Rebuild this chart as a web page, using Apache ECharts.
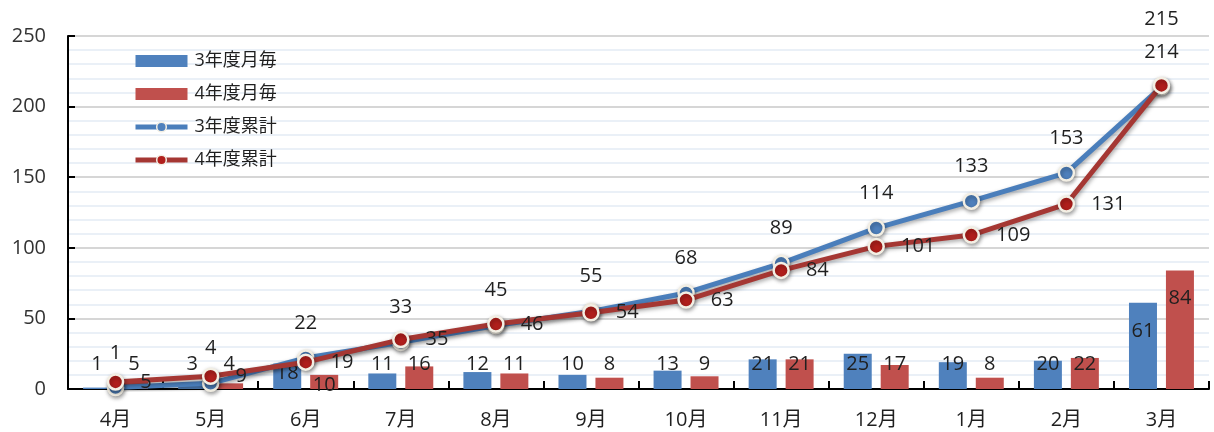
<!DOCTYPE html>
<html>
<head>
<meta charset="utf-8">
<script src="https://cdn.jsdelivr.net/npm/echarts@6/dist/echarts.min.js"></script>
<style>
html,body{margin:0;padding:0;background:#fff;}
#chart{width:1214px;height:432px;}
</style>
</head>
<body>
<div id="chart"></div>
<script>
const categories = ['4月','5月','6月','7月','8月','9月','10月','11月','12月','1月','2月','3月'];
const seriesNames = ['3年度月毎','4年度月毎','3年度累計','4年度累計'];
const monthlyR3 = [1,3,18,11,12,10,13,21,25,19,20,61];
const monthlyR4 = [5,4,10,16,11,8,9,21,17,8,22,84];
const cumulativeR3 = [1,4,22,33,45,55,68,89,114,133,153,214];
const cumulativeR4 = [5,9,19,35,46,54,63,84,101,109,131,215];
const yMin = 0, yMax = 250, yInterval = 50;

const FONT = "'Open Sans','Noto Sans CJK JP',sans-serif";
const TXT = '#1f1f1f';
const BLUE = '#4F81BD', RED = '#C0504D';
const BLUE_LINE = '#4A7EBB', RED_LINE = '#A53733';

// label placement tweaks (style only)
function barLabel(idx, isR4) {
  const base = {show:true, position:'insideBottom', distance:15, color:TXT, fontSize:20, fontFamily:FONT, lineHeight:20};
  if (idx === 11) return Object.assign({}, base, {position:'insideTop', distance:18});
  if (idx === 2) return Object.assign({}, base, {distance: isR4 ? -6 : 6});
  return base;
}
function barData(arr, isR4) {
  return arr.map((v,i) => ({value:v, label:barLabel(i,isR4)}));
}
const shadow = {shadowBlur:4, shadowColor:'rgba(0,0,0,0.35)', shadowOffsetX:1, shadowOffsetY:2};

const chart = echarts.init(document.getElementById('chart'), null, {renderer:'canvas'});
chart.setOption({
  animation:false,
  backgroundColor:'#ffffff',
  grid:{left:68, right:5, top:36, bottom:43, containLabel:false},
  legend:{
    orient:'vertical', left:128, top:47, itemWidth:52, itemHeight:12, itemGap:15,
    textStyle:{fontSize:18, color:TXT, fontFamily:FONT, padding:[0,0,0,2]},
    data:[
      {name:seriesNames[0], icon:'rect'},
      {name:seriesNames[1], icon:'rect'},
      {name:seriesNames[2], lineStyle:{width:5, color:BLUE_LINE}, itemStyle:{color:BLUE, borderColor:'#F3EFE4', borderWidth:1.5}},
      {name:seriesNames[3], lineStyle:{width:5, color:RED_LINE}, itemStyle:{color:'#B11F1C', borderColor:'#F3EFE4', borderWidth:1.5}}
    ]
  },
  xAxis:{
    type:'category', data:categories, boundaryGap:true,
    axisLine:{lineStyle:{color:'#000', width:2}},
    axisTick:{show:true, inside:true, length:8, lineStyle:{color:'#000', width:2}},
    axisLabel:{fontSize:20, color:TXT, fontFamily:FONT, margin:21},
    splitLine:{show:false}
  },
  yAxis:{
    type:'value', min:yMin, max:yMax, interval:yInterval,
    axisLine:{show:true, lineStyle:{color:'#000', width:2}},
    axisTick:{show:true, inside:true, length:7, lineStyle:{color:'#000', width:2}},
    axisLabel:{fontSize:20, color:'#333', fontFamily:FONT, margin:22},
    splitLine:{show:true, lineStyle:{color:'#D6D6D6', width:2}},
    minorTick:{show:false, splitNumber:5},
    minorSplitLine:{show:true, lineStyle:{color:'#E3EBF5', width:1.5}}
  },
  series:[
    {name:seriesNames[0], type:'bar', data:barData(monthlyR3,false), barWidth:28, barGap:'32%',
     itemStyle:{color:BLUE}, z:2},
    {name:seriesNames[1], type:'bar', data:barData(monthlyR4,true), barWidth:28,
     itemStyle:{color:RED}, z:2},
    {name:seriesNames[2], type:'line', data:cumulativeR3.map((v,i)=>({value:v})),
     symbol:'circle', symbolSize:15,
     lineStyle:Object.assign({color:BLUE_LINE, width:5}, shadow),
     itemStyle:Object.assign({color:BLUE, borderColor:'#F3EFE4', borderWidth:2.5}, shadow),
     label:{show:true, position:'top', distance:16, color:TXT, fontSize:20, fontFamily:FONT, lineHeight:20},
     z:3},
    {name:seriesNames[3], type:'line', data:cumulativeR4.map((v,i)=>(i===11?{value:v,label:{position:'top',distance:47}}:{value:v})),
     symbol:'circle', symbolSize:15,
     lineStyle:Object.assign({color:RED_LINE, width:5}, shadow),
     itemStyle:Object.assign({color:'#B11F1C', borderColor:'#F3EFE4', borderWidth:2.5}, shadow),
     label:{show:true, position:'right', distance:16, color:TXT, fontSize:20, fontFamily:FONT, lineHeight:20},
     z:4}
  ]
});
</script>
</body>
</html>
